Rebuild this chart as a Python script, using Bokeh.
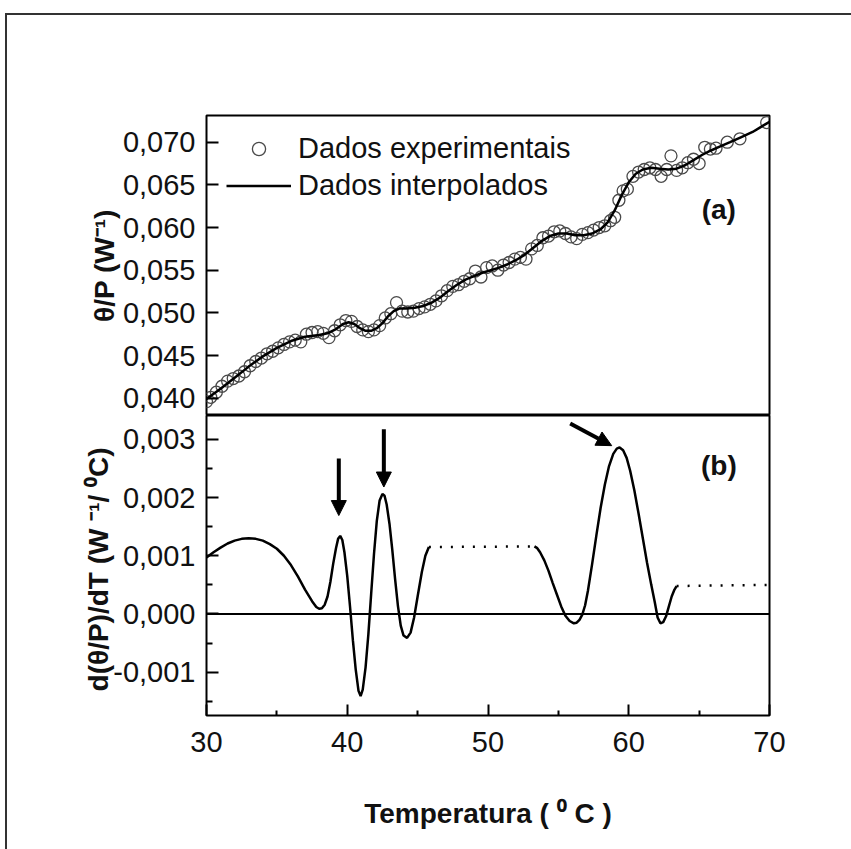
from bokeh.plotting import figure
from bokeh.layouts import column
from bokeh.models import (Range1d, FixedTicker, Legend, LegendItem, Label,
                          Arrow, NormalHead, Span)
from bokeh.embed import file_html
from bokeh.resources import INLINE

FONT = "Liberation Sans"

# ---------------- data ----------------
x_ticks = [30, 40, 50, 60, 70]
x_minor = [35, 45, 55, 65]
x_labels = ["30", "40", "50", "60", "70"]

a_ticks = [0.040, 0.045, 0.050, 0.055, 0.060, 0.065, 0.070]
a_labels = ["0,040", "0,045", "0,050", "0,055", "0,060", "0,065", "0,070"]

b_ticks = [-0.001, 0.0, 0.001, 0.002, 0.003]
b_minor = [-0.0015, -0.0005, 0.0005, 0.0015, 0.0025]
b_labels = ["-0,001", "0,000", "0,001", "0,002", "0,003"]

# (a) experimental points (T, theta/P)
exp_points = [
    (30.0, 0.0396), (30.3, 0.0401), (30.7, 0.0407), (31.1, 0.0414), (31.5, 0.0420),
    (31.9, 0.0423), (32.3, 0.0426), (32.7, 0.0431), (33.1, 0.0438), (33.5, 0.0443),
    (33.9, 0.0447), (34.3, 0.0452), (34.7, 0.0455), (35.1, 0.0459), (35.5, 0.0463),
    (35.9, 0.0466), (36.3, 0.0468), (36.7, 0.0466), (37.1, 0.0475), (37.5, 0.0477),
    (37.9, 0.0478), (38.3, 0.0476), (38.7, 0.0471), (39.1, 0.0479), (39.5, 0.0486),
    (39.9, 0.0491), (40.3, 0.0490), (40.7, 0.0484), (41.1, 0.0480), (41.5, 0.0478),
    (41.9, 0.0480), (42.3, 0.0485), (42.7, 0.0494), (43.1, 0.0499), (43.5, 0.0512),
    (43.9, 0.0502), (44.3, 0.0501), (44.7, 0.0502), (45.1, 0.0505), (45.5, 0.0507),
    (45.9, 0.0510), (46.3, 0.0514), (46.7, 0.0520), (47.1, 0.0526), (47.5, 0.0531),
    (47.9, 0.0533), (48.3, 0.0537), (48.7, 0.0540), (49.1, 0.0549), (49.5, 0.0542),
    (49.9, 0.0553), (50.3, 0.0555), (50.7, 0.0550), (51.1, 0.0556), (51.5, 0.0559),
    (51.9, 0.0563), (52.3, 0.0565), (52.7, 0.0563), (53.1, 0.0575), (53.5, 0.0579),
    (53.9, 0.0588), (54.3, 0.0590), (54.7, 0.0595), (55.1, 0.0596), (55.5, 0.0593),
    (55.9, 0.0589), (56.3, 0.0587), (56.7, 0.0592), (57.1, 0.0594), (57.5, 0.0597),
    (57.9, 0.0600), (58.3, 0.0602), (58.7, 0.0608), (59.0, 0.0612), (59.3, 0.0632),
    (59.6, 0.0643), (59.9, 0.0645), (60.3, 0.0660), (60.7, 0.0665), (61.1, 0.0668),
    (61.5, 0.0670), (61.9, 0.0668), (62.3, 0.0660), (62.7, 0.0668), (63.0, 0.0684),
    (63.4, 0.0667), (63.8, 0.0670), (64.2, 0.0676), (64.6, 0.0680), (65.0, 0.0675),
    (65.4, 0.0694), (65.8, 0.0692), (66.2, 0.0693), (67.0, 0.0700), (67.9, 0.0704),
    (69.8, 0.0723),
]

# (a) interpolated curve (T, theta/P)
fit_points = [
    (30.0, 0.0399), (31.0, 0.0411), (32.0, 0.0424), (33.0, 0.0437), (34.0, 0.0449),
    (35.0, 0.0459), (36.0, 0.0467), (37.0, 0.0472), (38.0, 0.0474), (38.6, 0.0476),
    (39.2, 0.0481), (39.7, 0.0487), (40.1, 0.0489), (40.5, 0.0487), (40.9, 0.0482),
    (41.3, 0.0479), (41.7, 0.0479), (42.1, 0.0482), (42.5, 0.0488), (42.9, 0.0496),
    (43.3, 0.0502), (43.7, 0.0505), (44.2, 0.0505), (44.8, 0.0506), (45.4, 0.0508),
    (46.0, 0.0512), (46.6, 0.0518), (47.2, 0.0526), (47.8, 0.0533), (48.4, 0.0539),
    (49.0, 0.0543), (49.6, 0.0547), (50.2, 0.0550), (50.8, 0.0553), (51.4, 0.0557),
    (52.0, 0.0562), (52.6, 0.0568), (53.2, 0.0576), (53.8, 0.0584), (54.4, 0.0590),
    (55.0, 0.0593), (55.6, 0.0593), (56.2, 0.0591), (56.8, 0.0591), (57.4, 0.0593),
    (58.0, 0.0598), (58.5, 0.0606), (59.0, 0.0620), (59.5, 0.0638), (60.0, 0.0653),
    (60.5, 0.0663), (61.0, 0.0668), (61.6, 0.0670), (62.2, 0.0669), (62.8, 0.0668),
    (63.4, 0.0669), (64.0, 0.0673), (64.6, 0.0679), (65.2, 0.0685), (65.8, 0.0690),
    (66.5, 0.0695), (67.2, 0.0700), (68.0, 0.0706), (68.8, 0.0712), (69.4, 0.0718),
    (70.0, 0.0724),
]

# (b) derivative, solid segment 1
deriv_seg1 = [
    (30.0, 0.00097), (30.5, 0.00106), (31.0, 0.00114), (31.5, 0.00121), (32.0, 0.00126),
    (32.5, 0.00129), (33.0, 0.00130), (33.5, 0.00129), (34.0, 0.00126), (34.5, 0.00120),
    (35.0, 0.00112), (35.5, 0.00100), (36.0, 0.00084), (36.5, 0.00064), (37.0, 0.00042),
    (37.5, 0.00022), (37.8, 0.00012), (38.0, 0.00009), (38.2, 0.00010), (38.4, 0.00016),
    (38.6, 0.00030), (38.8, 0.00055), (39.0, 0.00086), (39.2, 0.00113), (39.35, 0.00129),
    (39.5, 0.00134), (39.65, 0.00127), (39.8, 0.00106), (40.0, 0.00065), (40.2, 0.00012),
    (40.4, -0.00045), (40.6, -0.00095), (40.8, -0.00132), (40.95, -0.00141), (41.1, -0.00130),
    (41.3, -0.00092), (41.5, -0.00035), (41.7, 0.00035), (41.9, 0.00103), (42.1, 0.00160),
    (42.3, 0.00195), (42.5, 0.00206), (42.65, 0.00203), (42.8, 0.00188), (43.0, 0.00155),
    (43.2, 0.00110), (43.4, 0.00060), (43.6, 0.00014), (43.8, -0.00020), (44.0, -0.00037),
    (44.25, -0.00041), (44.5, -0.00032), (44.75, -0.00006), (45.0, 0.00030), (45.3, 0.00072),
    (45.55, 0.00100), (45.8, 0.00115),
]
deriv_gap1 = [(45.8, 0.00115), (53.3, 0.00116)]
deriv_seg2 = [
    (53.3, 0.00116), (53.5, 0.00113), (53.7, 0.00106), (54.0, 0.00092), (54.3, 0.00074),
    (54.6, 0.00053), (54.9, 0.00033), (55.2, 0.00013), (55.5, -0.00003), (55.8, -0.00012),
    (56.1, -0.00016), (56.3, -0.00015), (56.5, -0.00010), (56.7, -0.00001), (56.9, 0.00015),
    (57.1, 0.00040), (57.4, 0.00086), (57.7, 0.00135), (58.0, 0.00182), (58.3, 0.00222),
    (58.6, 0.00254), (58.9, 0.00275), (59.15, 0.00284), (59.35, 0.00286), (59.6, 0.00281),
    (59.85, 0.00268), (60.1, 0.00246), (60.4, 0.00212), (60.7, 0.00172), (61.0, 0.00130),
    (61.3, 0.00088), (61.6, 0.00050), (61.85, 0.00020), (62.05, -0.00006), (62.25, -0.00016),
    (62.45, -0.00014), (62.65, -0.00004), (62.85, 0.00013), (63.05, 0.00030), (63.25, 0.00042),
    (63.4, 0.00048),
]
deriv_gap2 = [(63.4, 0.00048), (70.0, 0.00050)]

# arrows: (x_start, y_start, x_end, y_end)
arrows = [
    (39.4, 0.00267, 39.4, 0.00169),
    (42.6, 0.00317, 42.6, 0.00218),
    (55.84, 0.00327, 58.79, 0.00289),
]


def xs(pts):
    return [p[0] for p in pts]


def ys(pts):
    return [p[1] for p in pts]


TEXT = "#111111"
TICK_SIZE = "29px"

x_range = Range1d(30, 70)

# ---------------- panel (a) ----------------
pa = figure(width=844, height=400, x_range=x_range,
            y_range=Range1d(0.03797, 0.07313),
            output_backend="svg", toolbar_location=None,
            x_axis_location=None,
            min_border_left=199, min_border_right=82,
            min_border_top=100, min_border_bottom=0)
pa.grid.visible = False
pa.outline_line_color = "black"
pa.outline_line_width = 2
pa.background_fill_color = "white"
pa.border_fill_color = "white"

ya = pa.yaxis[0]
ya.ticker = FixedTicker(ticks=a_ticks)
ya.major_label_overrides = dict(zip(a_ticks, a_labels))
ya.axis_line_color = None
ya.major_tick_in = 12
ya.major_tick_out = 0
ya.major_tick_line_width = 2
ya.minor_tick_line_color = None
ya.major_label_standoff = 11
ya.major_label_text_font = FONT
ya.major_label_text_font_size = TICK_SIZE
ya.major_label_text_color = TEXT
ya.axis_label = "θ/P (W⁻¹)"
ya.axis_label_text_font = FONT
ya.axis_label_text_font_style = "bold"
ya.axis_label_text_font_size = "28px"
ya.axis_label_text_color = TEXT
ya.axis_label_standoff = 0

r_exp = pa.scatter(xs(exp_points), ys(exp_points), marker="circle", size=12,
                   fill_color=None, line_color="#4a4a4a", line_width=1.3)
r_fit = pa.line(xs(fit_points), ys(fit_points), line_color="black", line_width=2.5)

legend = Legend(items=[LegendItem(label="Dados experimentais", renderers=[r_exp]),
                       LegendItem(label="Dados interpolados", renderers=[r_fit])],
                location=(20, 213), margin=0, padding=0, spacing=4,
                glyph_width=65, glyph_height=33, label_height=33,
                label_standoff=7, border_line_color=None,
                background_fill_alpha=0,
                label_text_font=FONT, label_text_font_size="29px",
                label_text_color=TEXT)
pa.add_layout(legend, "center")

pa.add_layout(Label(x=66.4, y=0.0621, text="(a)", text_font=FONT,
                    text_font_style="bold", text_font_size="28px",
                    text_color=TEXT, text_align="center", text_baseline="middle"))

# ---------------- panel (b) ----------------
pb = figure(width=844, height=434, x_range=x_range,
            y_range=Range1d(-0.001743, 0.003408),
            output_backend="svg", toolbar_location=None,
            min_border_left=199, min_border_right=82,
            min_border_top=0, min_border_bottom=134)
pb.grid.visible = False
pb.outline_line_color = "black"
pb.outline_line_width = 2
pb.background_fill_color = "white"
pb.border_fill_color = "white"

yb = pb.yaxis[0]
yb.ticker = FixedTicker(ticks=b_ticks, minor_ticks=b_minor)
yb.major_label_overrides = dict(zip(b_ticks, b_labels))
yb.axis_line_color = None
yb.major_tick_in = 12
yb.major_tick_out = 0
yb.minor_tick_in = 6
yb.minor_tick_out = 0
yb.major_tick_line_width = 2
yb.minor_tick_line_width = 2
yb.major_label_standoff = 11
yb.major_label_text_font = FONT
yb.major_label_text_font_size = TICK_SIZE
yb.major_label_text_color = TEXT
yb.axis_label = "d(θ/P)/dT  (W ⁻¹/ ⁰C)"
yb.axis_label_text_font = FONT
yb.axis_label_text_font_style = "bold"
yb.axis_label_text_font_size = "28px"
yb.axis_label_text_color = TEXT
yb.axis_label_standoff = -4

xb = pb.xaxis[0]
xb.ticker = FixedTicker(ticks=x_ticks, minor_ticks=x_minor)
xb.major_label_overrides = dict(zip(x_ticks, x_labels))
xb.axis_line_color = None
xb.major_tick_in = 11
xb.major_tick_out = 0
xb.minor_tick_in = 5
xb.minor_tick_out = 0
xb.major_tick_line_width = 2
xb.minor_tick_line_width = 2
xb.major_label_standoff = 16
xb.major_label_text_font = FONT
xb.major_label_text_font_size = TICK_SIZE
xb.major_label_text_color = TEXT
xb.axis_label = "Temperatura ( ⁰ C )"
xb.axis_label_text_font = FONT
xb.axis_label_text_font_style = "bold"
xb.axis_label_text_font_size = "28px"
xb.axis_label_text_color = TEXT
xb.axis_label_standoff = 43

pb.add_layout(Span(location=0, dimension="width", line_color="black", line_width=2))

pb.line(xs(deriv_seg1), ys(deriv_seg1), line_color="black", line_width=2.5)
pb.line(xs(deriv_seg2), ys(deriv_seg2), line_color="black", line_width=2.5)
pb.line(xs(deriv_gap1), ys(deriv_gap1), line_color="black", line_width=2.5,
        line_dash="2 9")
pb.line(xs(deriv_gap2), ys(deriv_gap2), line_color="black", line_width=2.5,
        line_dash="2 9")

for (x0, y0, x1, y1) in arrows:
    pb.add_layout(Arrow(end=NormalHead(size=15, fill_color="black", line_color="black"),
                        x_start=x0, y_start=y0, x_end=x1, y_end=y1,
                        line_color="black", line_width=4))

pb.add_layout(Label(x=66.4, y=0.00255, text="(b)", text_font=FONT,
                    text_font_style="bold", text_font_size="28px",
                    text_color=TEXT, text_align="center", text_baseline="middle"))

layout = column(pa, pb, margin=(13, 0, 0, 5), spacing=0,
                styles={"border-top": "2px solid #333", "border-left": "2px solid #333"})

open("out.html", "w").write(file_html(layout, INLINE))
